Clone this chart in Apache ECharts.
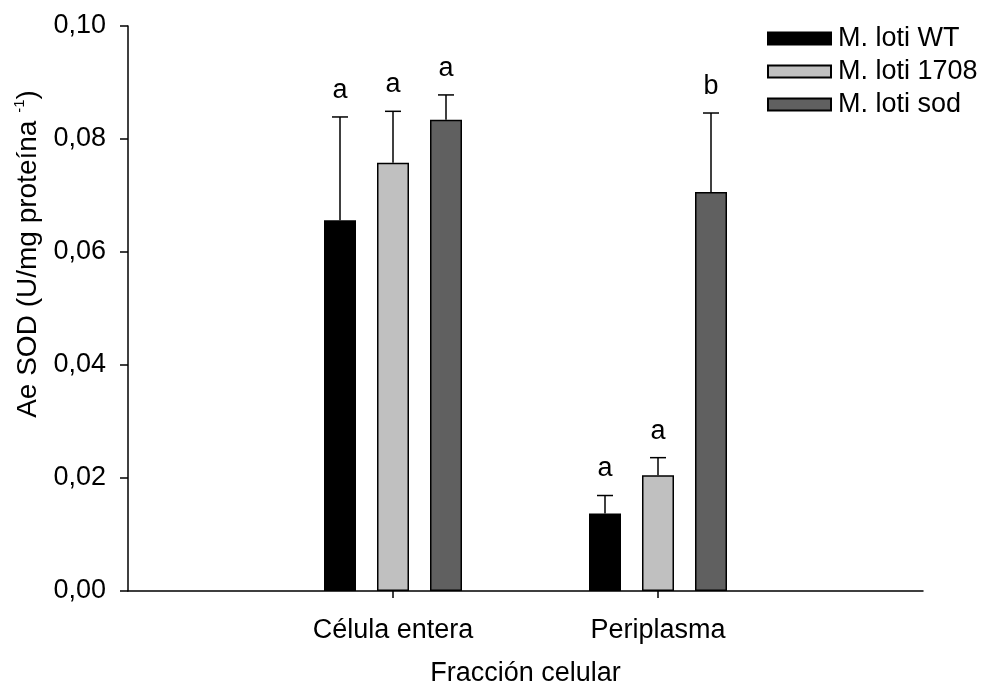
<!DOCTYPE html>
<html>
<head>
<meta charset="utf-8">
<script src="https://cdn.jsdelivr.net/npm/echarts@6/dist/echarts.min.js"></script>
<style>
  html, body { margin: 0; padding: 0; background: #fff; }
  #chart { width: 986px; height: 688px; }
</style>
</head>
<body>
<div id="chart"></div>
<script>
// SOD activity per cell fraction for three M. loti strains (mean + upper SE)
const categories = ['Célula entera', 'Periplasma'];
const seriesNames = ['M. loti WT', 'M. loti 1708', 'M. loti sod'];
const wtMean = [0.0656, 0.0137];
const wtErr = [0.0183, 0.0032];
const m1708Mean = [0.0758, 0.0205];
const m1708Err = [0.0091, 0.0031];
const sodMean = [0.0834, 0.0706];
const sodErr = [0.0044, 0.0140];
const wtLetters = ['a', 'a'];
const m1708Letters = ['a', 'a'];
const sodLetters = ['a', 'b'];
const yTicks = [0, 0.02, 0.04, 0.06, 0.08, 0.10];

const FONT = '"Liberation Sans", Arial, Helvetica, sans-serif';
const colors = ['#000000', '#c0c0c0', '#606060'];
const means = [wtMean, m1708Mean, sodMean];
const errs = [wtErr, m1708Err, sodErr];
const letters = [wtLetters, m1708Letters, sodLetters];

// The x axis runs 0..3 with the two groups sitting on positions 1 and 2
const axisCats = [''].concat(categories, ['']);
const BAR_W = 32;
const BAR_GAP = 21;

function padded(arr) { return [null].concat(arr, [null]); }

const series = [];
means.forEach((m, k) => {
  series.push({
    name: seriesNames[k],
    type: 'bar',
    data: padded(m),
    barWidth: BAR_W,
    barGap: (BAR_GAP / BAR_W * 100) + '%',
    itemStyle: { color: colors[k], borderColor: '#000', borderWidth: 1.5 },
    emphasis: { disabled: true },
    z: 2
  });
});

// upper error whiskers plus significance letters
means.forEach((m, k) => {
  const data = m.map((v, i) => [i + 1, v, errs[k][i], letters[k][i]]);
  series.push({
    name: seriesNames[k] + ' err',
    type: 'custom',
    data: data,
    z: 3,
    silent: true,
    renderItem: function (params, api) {
      const idx = api.value(0);
      const val = api.value(1);
      const e = api.value(2);
      const txt = data[params.dataIndex][3];
      const off = (k - 1) * (BAR_W + BAR_GAP);
      const base = api.coord([idx, val]);
      const top = api.coord([idx, val + e]);
      const x = base[0] + off;
      const cap = 8;
      return {
        type: 'group',
        children: [
          { type: 'line', shape: { x1: x, y1: base[1], x2: x, y2: top[1] },
            style: { stroke: '#000', lineWidth: 1.5 } },
          { type: 'line', shape: { x1: x - cap, y1: top[1], x2: x + cap, y2: top[1] },
            style: { stroke: '#000', lineWidth: 1.5 } },
          { type: 'text', x: x, y: top[1] - 13,
            style: { text: txt, fill: '#000', font: '27px ' + FONT,
                     align: 'center', verticalAlign: 'bottom' } }
        ]
      };
    }
  });
});

const chart = echarts.init(document.getElementById('chart'));
chart.setOption({
  animation: false,
  backgroundColor: '#fff',
  textStyle: { fontFamily: FONT },
  grid: { left: 128, right: 63, top: 26, bottom: 97, containLabel: false, outerBoundsMode: 'none' },
  legend: {
    data: seriesNames,
    left: 767,
    top: 25,
    padding: 0,
    orient: 'vertical',
    itemWidth: 63,
    itemHeight: 12,
    itemGap: 6,
    icon: 'rect',
    selectedMode: false,
    textStyle: { fontSize: 27, color: '#000', lineHeight: 27, padding: [0, 0, 0, 2] }
  },
  xAxis: {
    type: 'category',
    data: axisCats,
    boundaryGap: false,
    name: 'Fracción celular',
    nameLocation: 'middle',
    nameGap: 69,
    nameTextStyle: { fontSize: 27, color: '#000' },
    axisLine: { lineStyle: { color: '#000', width: 1.5 } },
    axisTick: {
      show: true, length: 7, lineStyle: { color: '#000', width: 1.5 },
      interval: function (i) { return i === 1 || i === 2; }
    },
    axisLabel: {
      fontSize: 27, color: '#000', margin: 26,
      interval: function (i) { return i === 1 || i === 2; }
    },
    splitLine: { show: false }
  },
  yAxis: {
    type: 'value',
    min: yTicks[0],
    max: yTicks[yTicks.length - 1],
    interval: 0.02,
    axisLine: { show: true, lineStyle: { color: '#000', width: 1.5 } },
    axisTick: { show: true, length: 8, lineStyle: { color: '#000', width: 1.5 } },
    axisLabel: {
      fontSize: 27, color: '#000', margin: 22,
      formatter: function (v) { return v.toFixed(2).replace('.', ','); }
    },
    splitLine: { show: false }
  },
  graphic: [{
    type: 'text',
    x: 28,
    y: 254,
    rotation: Math.PI / 2,
    style: {
      text: '{n|Ae SOD (U/mg proteína }{s|-1}{n|)}',
      align: 'center',
      verticalAlign: 'middle',
      fill: '#000',
      rich: {
        n: { fontSize: 28, fontFamily: FONT, lineHeight: 32, fill: '#000' },
        s: { fontSize: 15, fontFamily: FONT, verticalAlign: 'top', lineHeight: 32, padding: [0, 0, 13, 0], fill: '#000' }
      }
    }
  }],
  series: series
});
</script>
</body>
</html>
